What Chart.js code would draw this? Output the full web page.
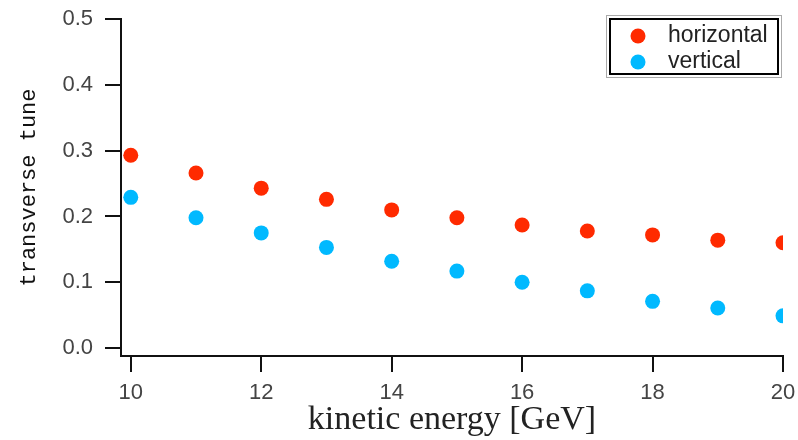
<!DOCTYPE html>
<html>
<head>
<meta charset="utf-8">
<script src="https://cdn.jsdelivr.net/npm/chart.js@4/dist/chart.umd.min.js"></script>
<style>
  html, body { margin: 0; padding: 0; background: #fff; }
  #wrap { width: 798px; height: 440px; }
</style>
</head>
<body>
<div id="wrap"><canvas id="tuneChart"></canvas></div>
<script>
// energies (GeV) and tunes
const energies = [10, 11, 12, 13, 14, 15, 16, 17, 18, 19, 20];
const horizontal = [0.293, 0.266, 0.243, 0.226, 0.210, 0.198, 0.187, 0.178, 0.172, 0.164, 0.160];
const vertical = [0.229, 0.198, 0.175, 0.153, 0.132, 0.117, 0.100, 0.087, 0.071, 0.061, 0.049];
const xTicks = [10, 12, 14, 16, 18, 20];
const yTicks = [0.0, 0.1, 0.2, 0.3, 0.4, 0.5];

const toPoints = ys => energies.map((e, i) => ({ x: e, y: ys[i] }));

// legend box drawn inside the plot, top right
const boxLegend = {
    id: 'boxLegend',
    afterDraw(chart) {
        const ctx = chart.ctx;
        const x0 = 606, y0 = 15, w = 176, h = 63;
        ctx.save();
        ctx.fillStyle = '#fff';
        ctx.fillRect(x0, y0, w, h);
        ctx.strokeStyle = '#aaa';
        ctx.lineWidth = 1;
        ctx.strokeRect(x0 + 0.5, y0 + 0.5, w - 1, h - 1);
        ctx.strokeStyle = '#000';
        ctx.lineWidth = 2;
        ctx.strokeRect(x0 + 4, y0 + 4, w - 8, h - 8);
        ctx.font = '23px "Liberation Sans", Arial, sans-serif';
        ctx.textBaseline = 'middle';
        chart.data.datasets.forEach((ds, i) => {
            const cy = y0 + 21 + i * 26;
            ctx.beginPath();
            ctx.arc(x0 + 32, cy, 7.5, 0, Math.PI * 2);
            ctx.fillStyle = ds.backgroundColor;
            ctx.fill();
            ctx.fillStyle = '#222';
            ctx.fillText(ds.label, x0 + 62, cy);
        });
        ctx.restore();
    }
};

new Chart(document.getElementById('tuneChart'), {
    type: 'scatter',
    data: {
        datasets: [
            { label: 'horizontal', data: toPoints(horizontal), backgroundColor: '#ff2a00', borderWidth: 0, pointRadius: 7.5 },
            { label: 'vertical', data: toPoints(vertical), backgroundColor: '#00b9ff', borderWidth: 0, pointRadius: 7.5 }
        ]
    },
    options: {
        responsive: true,
        maintainAspectRatio: false,
        animation: false,
        layout: { padding: { top: 19, right: 15, left: 0, bottom: 0 } },
        plugins: {
            legend: { display: false },
            tooltip: { enabled: false }
        },
        scales: {
            x: {
                type: 'linear',
                min: 9.85,
                max: 20,
                afterBuildTicks: s => { s.ticks = xTicks.map(v => ({ value: v })); },
                afterFit: s => { s.height = 84; s.paddingLeft = 0; s.paddingRight = 0; },
                grid: { drawOnChartArea: false, drawTicks: true, tickLength: 16, color: '#111', lineWidth: 2 },
                border: { color: '#111', width: 2 },
                ticks: { color: '#444', padding: 8, font: { family: '"Liberation Sans", Arial, sans-serif', size: 22 }, maxRotation: 0 },
                title: {
                    display: true,
                    text: 'kinetic energy [GeV]',
                    color: '#222',
                    padding: { top: 0, bottom: 0 },
                    font: { family: '"Liberation Serif", "Times New Roman", serif', size: 34 }
                }
            },
            y: {
                min: -0.012,
                max: 0.5,
                afterBuildTicks: s => { s.ticks = yTicks.map(v => ({ value: v })); },
                afterFit: s => { s.width = 121; s.paddingTop = 0; s.paddingBottom = 0; },
                grid: { drawOnChartArea: false, drawTicks: true, tickLength: 16, color: '#111', lineWidth: 2 },
                border: { color: '#111', width: 2 },
                ticks: { color: '#444', padding: 12, font: { family: '"Liberation Sans", Arial, sans-serif', size: 22 }, callback: v => v.toFixed(1) },
                title: {
                    display: true,
                    text: 'transverse tune',
                    color: '#111',
                    padding: { top: 16, bottom: 0 },
                    font: { family: '"Liberation Mono", "Courier New", monospace', size: 22 }
                }
            }
        }
    },
    plugins: [boxLegend]
});
</script>
</body>
</html>
